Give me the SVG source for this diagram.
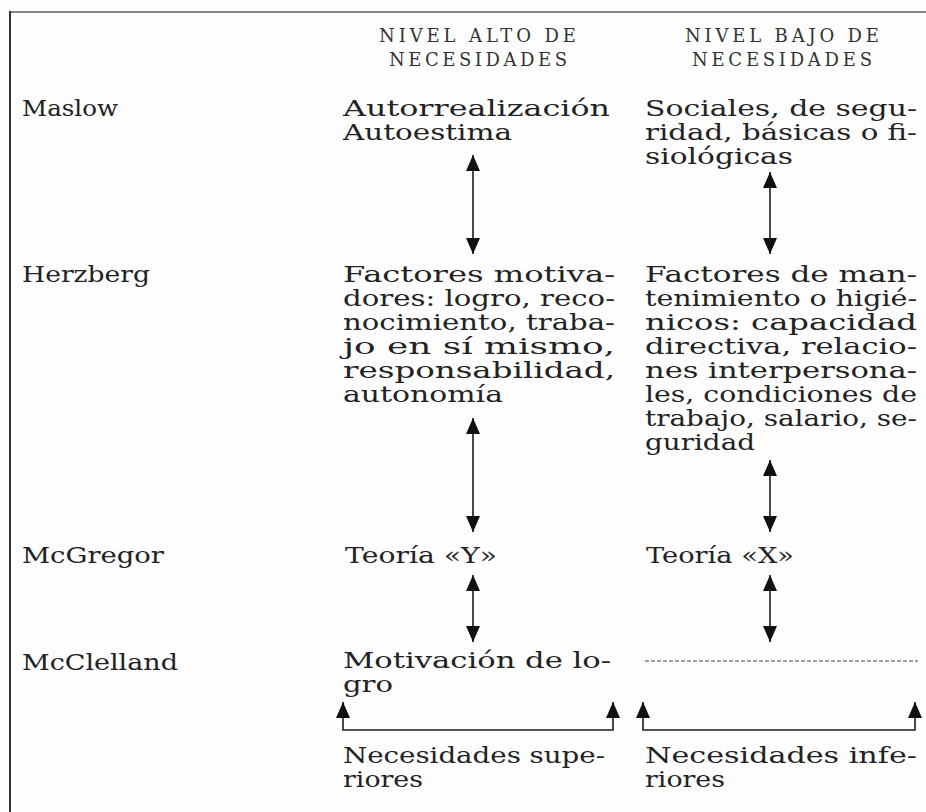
<svg xmlns="http://www.w3.org/2000/svg" width="926" height="812" viewBox="0 0 926 812">
<defs>
<style>
.b{font-family:"DejaVu Serif","Liberation Serif",serif;font-size:22px;fill:#222}
.h{font-family:"DejaVu Serif","Liberation Serif",serif;font-size:18px;fill:#333}
.c{stroke:#1c1c1c;stroke-width:1.6;fill:none}
.d{stroke:#444;stroke-width:1.2;stroke-dasharray:4 2;fill:none}
</style>
<marker id="ah2" viewBox="0 0 16 14" refX="16" refY="7" markerWidth="16" markerHeight="14" markerUnits="userSpaceOnUse" orient="auto-start-reverse">
<path d="M0,0 L16,7 L0,14 Z" fill="#111"/>
</marker>
</defs>
<rect x="0" y="0" width="926" height="812" fill="#fdfdfd"/>
<g id="frame">
<line x1="10" y1="12" x2="926" y2="12" stroke="#8a8a8a" stroke-width="2"/>
<line x1="10" y1="11" x2="10" y2="812" stroke="#333" stroke-width="2"/>
</g>
<g id="header-alto" class="h">
<text x="379" y="42" textLength="197" lengthAdjust="spacing">NIVEL ALTO DE</text>
<text x="389" y="66" textLength="178" lengthAdjust="spacing">NECESIDADES</text>
</g>
<g id="header-bajo" class="h">
<text x="685" y="42" textLength="194" lengthAdjust="spacing">NIVEL BAJO DE</text>
<text x="692" y="66" textLength="180" lengthAdjust="spacing">NECESIDADES</text>
</g>
<g id="row-labels" class="b">
<text x="22" y="116" textLength="96" lengthAdjust="spacingAndGlyphs">Maslow</text>
<text x="22" y="282" textLength="128" lengthAdjust="spacingAndGlyphs">Herzberg</text>
<text x="22" y="563" textLength="142" lengthAdjust="spacingAndGlyphs">McGregor</text>
<text x="22" y="670" textLength="156" lengthAdjust="spacingAndGlyphs">McClelland</text>
</g>
<g id="maslow-alto" class="b">
<text x="343" y="116" textLength="267" lengthAdjust="spacingAndGlyphs">Autorrealización</text>
<text x="343" y="140" textLength="169" lengthAdjust="spacingAndGlyphs">Autoestima</text>
</g>
<g id="maslow-bajo" class="b">
<text x="645" y="116" textLength="272" lengthAdjust="spacingAndGlyphs">Sociales, de segu-</text>
<text x="645" y="140" textLength="272" lengthAdjust="spacingAndGlyphs">ridad, básicas o fi-</text>
<text x="645" y="164" textLength="148" lengthAdjust="spacingAndGlyphs">siológicas</text>
</g>
<g id="herzberg-alto" class="b">
<text x="343" y="282" textLength="272" lengthAdjust="spacingAndGlyphs">Factores motiva-</text>
<text x="343" y="306" textLength="272" lengthAdjust="spacingAndGlyphs">dores: logro, reco-</text>
<text x="343" y="330" textLength="272" lengthAdjust="spacingAndGlyphs">nocimiento, traba-</text>
<text x="343" y="354" textLength="272" lengthAdjust="spacingAndGlyphs">jo en sí mismo,</text>
<text x="343" y="378" textLength="272" lengthAdjust="spacingAndGlyphs">responsabilidad,</text>
<text x="343" y="402" textLength="160" lengthAdjust="spacingAndGlyphs">autonomía</text>
</g>
<g id="herzberg-bajo" class="b">
<text x="645" y="282" textLength="272" lengthAdjust="spacingAndGlyphs">Factores de man-</text>
<text x="645" y="306" textLength="272" lengthAdjust="spacingAndGlyphs">tenimiento o higié-</text>
<text x="645" y="330" textLength="272" lengthAdjust="spacingAndGlyphs">nicos: capacidad</text>
<text x="645" y="354" textLength="272" lengthAdjust="spacingAndGlyphs">directiva, relacio-</text>
<text x="645" y="378" textLength="272" lengthAdjust="spacingAndGlyphs">nes interpersona-</text>
<text x="645" y="402" textLength="272" lengthAdjust="spacingAndGlyphs">les, condiciones de</text>
<text x="645" y="426" textLength="272" lengthAdjust="spacingAndGlyphs">trabajo, salario, se-</text>
<text x="645" y="450" textLength="110" lengthAdjust="spacingAndGlyphs">guridad</text>
</g>
<g id="mcgregor-alto" class="b">
<text x="345" y="563" textLength="152" lengthAdjust="spacingAndGlyphs">Teoría «Y»</text>
</g>
<g id="mcgregor-bajo" class="b">
<text x="646" y="563" textLength="148" lengthAdjust="spacingAndGlyphs">Teoría «X»</text>
</g>
<g id="mcclelland-alto" class="b">
<text x="343" y="668" textLength="268" lengthAdjust="spacingAndGlyphs">Motivación de lo-</text>
<text x="343" y="692" textLength="50" lengthAdjust="spacingAndGlyphs">gro</text>
</g>
<g id="mcclelland-bajo">
<line class="d" x1="645" y1="661" x2="918" y2="661"/>
</g>
<g id="superiores" class="b">
<text x="343" y="763" textLength="262" lengthAdjust="spacingAndGlyphs">Necesidades supe-</text>
<text x="343" y="787" textLength="80" lengthAdjust="spacingAndGlyphs">riores</text>
</g>
<g id="inferiores" class="b">
<text x="645" y="763" textLength="272" lengthAdjust="spacingAndGlyphs">Necesidades infe-</text>
<text x="645" y="787" textLength="80" lengthAdjust="spacingAndGlyphs">riores</text>
</g>
<g id="connectors">
<line class="c" x1="473" y1="155" x2="473" y2="254" marker-start="url(#ah2)" marker-end="url(#ah2)"/>
<line class="c" x1="770" y1="172" x2="770" y2="254" marker-start="url(#ah2)" marker-end="url(#ah2)"/>
<line class="c" x1="473" y1="418" x2="473" y2="532" marker-start="url(#ah2)" marker-end="url(#ah2)"/>
<line class="c" x1="770" y1="460" x2="770" y2="532" marker-start="url(#ah2)" marker-end="url(#ah2)"/>
<line class="c" x1="473" y1="575" x2="473" y2="642" marker-start="url(#ah2)" marker-end="url(#ah2)"/>
<line class="c" x1="770" y1="575" x2="770" y2="642" marker-start="url(#ah2)" marker-end="url(#ah2)"/>
<path class="c" d="M343,702 L343,730 L613,730 L613,702" marker-start="url(#ah2)" marker-end="url(#ah2)"/>
<path class="c" d="M643,702 L643,730 L915,730 L915,702" marker-start="url(#ah2)" marker-end="url(#ah2)"/>
</g>
</svg>
